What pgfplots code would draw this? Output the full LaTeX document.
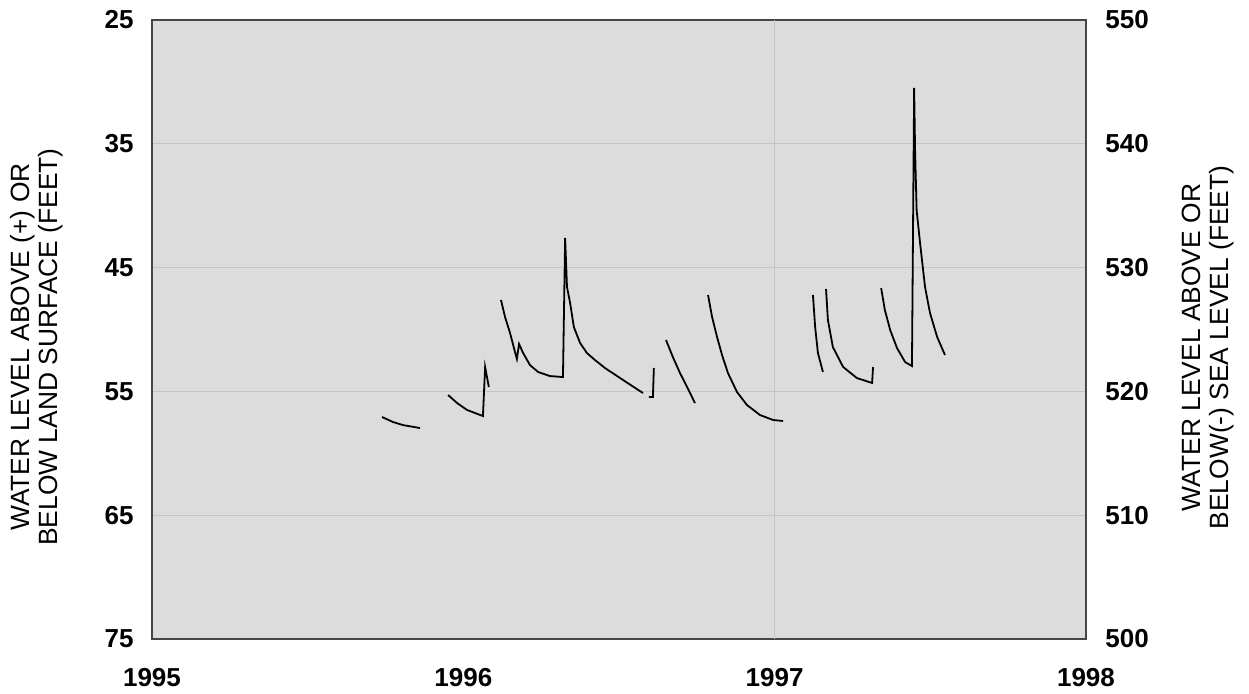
\documentclass[border=0pt]{standalone}
\usepackage{pgfplots}
\pgfplotsset{compat=1.18}
\usepackage{fontspec}
\setmainfont{Liberation Sans}
\definecolor{bgc}{RGB}{220,220,220}
\definecolor{gridc}{RGB}{196,196,196}
\definecolor{framec}{RGB}{70,70,70}
\begin{document}
\begin{tikzpicture}
\useasboundingbox (-76pt,-27.5pt) rectangle (548.5pt,319.5pt);
\begin{axis}[
  at={(0,0)}, anchor=south west, scale only axis,
  width=467pt, height=309.5pt,
  xmin=1995, xmax=1998, ymin=25, ymax=75, y dir=reverse,
  xtick={1995,1996,1997,1998}, xticklabels={1995,1996,1997,1998},
  ytick={25,35,45,55,65,75},
  major tick length=0pt,
  ymajorgrids, grid style={gridc, line width=0.6pt},
  extra x ticks={1997}, extra x tick labels={}, extra x tick style={grid=major},
  axis background/.style={fill=bgc},
  axis line style={framec, line width=0.8pt},
  tick label style={font=\fontsize{13}{14}\selectfont\bfseries},
  /pgf/number format/assume math mode=true,
  xticklabel shift=11pt, yticklabel shift=5.7pt,
  ylabel={WATER LEVEL ABOVE (+) OR\\BELOW LAND SURFACE (FEET)},
  ylabel style={at={(axis description cs:0,0.4717)}, anchor=center, yshift=57.5pt,
    align=center, font=\fontsize{13.2}{14}\selectfont},
  unbounded coords=jump,
]
\addplot[black, line width=0.9pt] coordinates {
(1995.739,57.07) (1995.774,57.47) (1995.806,57.72) (1995.861,57.96)
(1995.90,nan)
(1995.951,55.29) (1995.980,55.94) (1996.012,56.50) (1996.063,56.99) (1996.070,53.03) (1996.082,54.65)
(1996.10,nan)
(1996.121,47.62) (1996.134,48.99) (1996.150,50.28) (1996.166,51.82) (1996.172,52.38) (1996.179,51.17)
(1996.192,51.90) (1996.214,52.87) (1996.240,53.43) (1996.278,53.76) (1996.320,53.84) (1996.327,42.61)
(1996.333,46.57) (1996.343,47.86) (1996.355,49.80) (1996.375,51.09) (1996.397,51.90) (1996.423,52.47)
(1996.455,53.11) (1996.513,54.08) (1996.577,55.13)
(1996.585,nan)
(1996.596,55.45) (1996.609,55.45) (1996.612,53.11)
(1996.63,nan)
(1996.651,50.85) (1996.673,52.22) (1996.696,53.52) (1996.722,54.81) (1996.744,55.94)
(1996.76,nan)
(1996.786,47.21) (1996.799,48.99) (1996.815,50.61) (1996.831,52.06) (1996.850,53.52) (1996.879,55.05)
(1996.911,56.10) (1996.953,56.91) (1996.995,57.31) (1997.027,57.39)
(1997.08,nan)
(1997.123,47.21) (1997.130,49.80) (1997.139,51.90) (1997.155,53.43)
(1997.16,nan)
(1997.165,46.73) (1997.171,49.23) (1997.187,51.42) (1997.220,53.03) (1997.264,53.92) (1997.313,54.32) (1997.316,53.03)
(1997.33,nan)
(1997.342,46.65) (1997.354,48.43) (1997.371,50.04) (1997.393,51.50) (1997.419,52.63) (1997.441,52.95)
(1997.448,30.49) (1997.451,35.5) (1997.456,40.35) (1997.467,43.01) (1997.483,46.57) (1997.499,48.67)
(1997.522,50.61) (1997.547,52.06)
};
\end{axis}
\begin{axis}[
  at={(0,0)}, anchor=south west, scale only axis,
  width=467pt, height=309.5pt,
  xmin=1995, xmax=1998, ymin=500, ymax=550,
  axis x line=none, axis y line*=right,
  ytick={500,510,520,530,540,550},
  major tick length=0pt,
  axis line style={framec, line width=0.8pt},
  tick label style={font=\fontsize{13}{14}\selectfont\bfseries},
  /pgf/number format/assume math mode=true,
  yticklabel shift=6.2pt,
  ylabel={WATER LEVEL ABOVE OR\\BELOW(-) SEA LEVEL (FEET)},
  ylabel style={at={(axis description cs:1,0.471)}, anchor=center, yshift=-61pt,
    align=center, font=\fontsize{13.2}{14}\selectfont},
]
\end{axis}
\end{tikzpicture}
\end{document}
